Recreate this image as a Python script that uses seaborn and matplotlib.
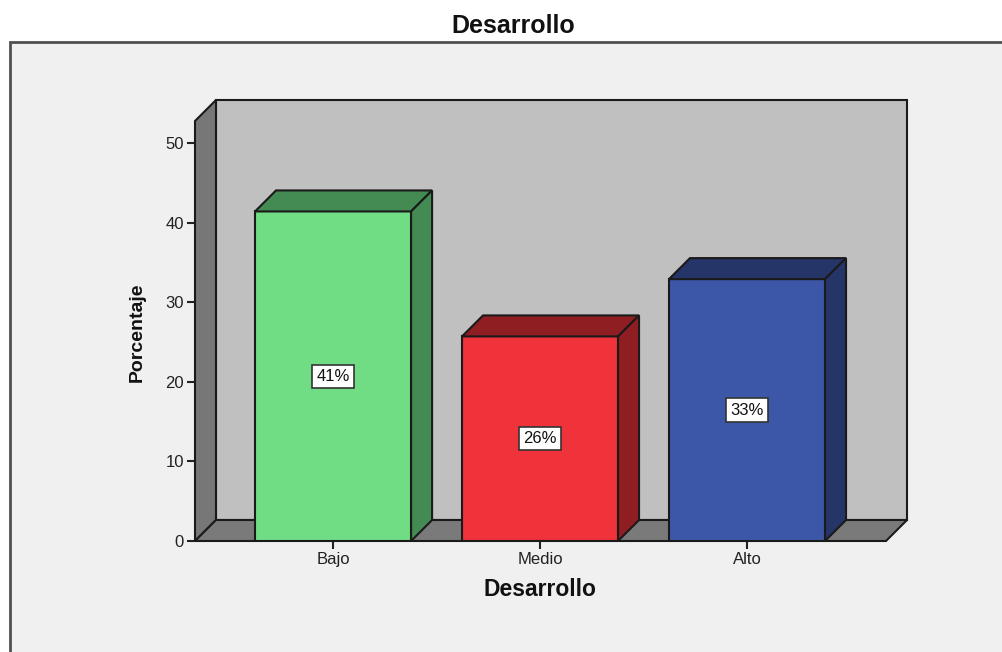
import numpy as np
import pandas as pd
import matplotlib
matplotlib.use("Agg")
import matplotlib.pyplot as plt
from matplotlib.patches import Polygon, Rectangle
import seaborn as sns

# Data
categories = ["Bajo", "Medio", "Alto"]
percentages = [41.4, 25.7, 32.9]
front_colors = ["#70DD84", "#F0323A", "#3D57A8"]
shade_colors = ["#438B52", "#8E1E22", "#253568"]
yticks = [0, 10, 20, 30, 40, 50]

sns.set_theme(style="white")
plt.rcParams["font.family"] = ["Liberation Sans", "DejaVu Sans"]

W, H = 1003, 652
fig = plt.figure(figsize=(W / 100, H / 100), dpi=100)
fig.patch.set_facecolor("white")

# Outer chart panel, drawn beneath the axes
fig.patches.append(Rectangle((10 / W, -0.1), 1.2, (H - 42) / H + 0.1,
                             transform=fig.transFigure, facecolor="#F0F0F0",
                             edgecolor="#505050", linewidth=2, zorder=-10))

# Plot area (front face of the box)
left_px, right_px, bottom_px, top_px = 195, 907, 541, 100
ax = fig.add_axes([left_px / W, (H - bottom_px) / H,
                   (right_px - left_px) / W, (bottom_px - top_px) / H])
ax.set_facecolor("none")

x0, xR = -0.667, 2.773
ytop = 55.4

df = pd.DataFrame({"Desarrollo": categories, "Porcentaje": percentages})
bar_w = 0.754
sns.barplot(data=df, x="Desarrollo", y="Porcentaje", hue="Desarrollo",
            palette=front_colors, width=bar_w, dodge=False, legend=False,
            edgecolor="#1a1a1a", linewidth=1.5, saturation=1, ax=ax, zorder=3)
ax.set_xlim(x0, xR)
ax.set_ylim(0, ytop)

# 3D depth offset in data units
px_per_x = (right_px - left_px) / (xR - x0)
px_per_y = (bottom_px - top_px) / ytop
ddx = 21 / px_per_x
ddy = 21 / px_per_y

edge = "#1a1a1a"
# Back wall
ax.add_patch(Polygon([(x0 + ddx, ddy), (xR, ddy), (xR, ytop), (x0 + ddx, ytop)],
                     closed=True, facecolor="#C0C0C0", edgecolor=edge, lw=1.5,
                     zorder=1, clip_on=False))
# Left wall
ax.add_patch(Polygon([(x0, 0), (x0, ytop - ddy), (x0 + ddx, ytop), (x0 + ddx, ddy)],
                     closed=True, facecolor="#777777", edgecolor=edge, lw=1.5,
                     zorder=1, clip_on=False))
# Floor
ax.add_patch(Polygon([(x0, 0), (xR - ddx, 0), (xR, ddy), (x0 + ddx, ddy)],
                     closed=True, facecolor="#7A7A7A", edgecolor=edge, lw=1.5,
                     zorder=1, clip_on=False))

# Top and side faces of each bar, plus value labels
for i, (v, sc) in enumerate(zip(percentages, shade_colors)):
    l, r = i - bar_w / 2, i + bar_w / 2
    ax.add_patch(Polygon([(l, v), (r, v), (r + ddx, v + ddy), (l + ddx, v + ddy)],
                         closed=True, facecolor=sc, edgecolor=edge, lw=1.5,
                         zorder=3, clip_on=False))
    ax.add_patch(Polygon([(r, 0), (r + ddx, ddy), (r + ddx, v + ddy), (r, v)],
                         closed=True, facecolor=sc, edgecolor=edge, lw=1.5,
                         zorder=3, clip_on=False))
    ax.text(i, v / 2, f"{v:.0f}%", ha="center", va="center", fontsize=12,
            color="#111111", zorder=5,
            bbox=dict(boxstyle="square,pad=0.25", facecolor="white",
                      edgecolor="#333333", linewidth=1.2))

for s in ax.spines.values():
    s.set_visible(False)

ax.set_yticks(yticks)
ax.set_yticklabels([str(t) for t in yticks])
ax.set_xticks(range(len(categories)))
ax.set_xticklabels(categories)
ax.tick_params(axis="y", direction="out", length=6, width=1.5, color="#222222",
               labelsize=12, labelcolor="#222222", pad=2, left=True)
ax.tick_params(axis="x", direction="out", length=6, width=1.5, color="#222222",
               labelsize=12, labelcolor="#222222", pad=2, bottom=True)
ax.set_xlabel("")
ax.set_ylabel("")

fig.text(513 / W, 1 - 26 / H, "Desarrollo", ha="center", va="center",
         fontsize=18, fontweight="bold", color="#111111")
fig.text(540 / W, 1 - 590 / H, "Desarrollo", ha="center", va="center",
         fontsize=16.5, fontweight="bold", color="#111111")
fig.text(137 / W, 1 - 332 / H, "Porcentaje", ha="center", va="center",
         rotation=90, fontsize=14, fontweight="bold", color="#111111")

fig.savefig("out.png", dpi=100, facecolor=fig.get_facecolor())
